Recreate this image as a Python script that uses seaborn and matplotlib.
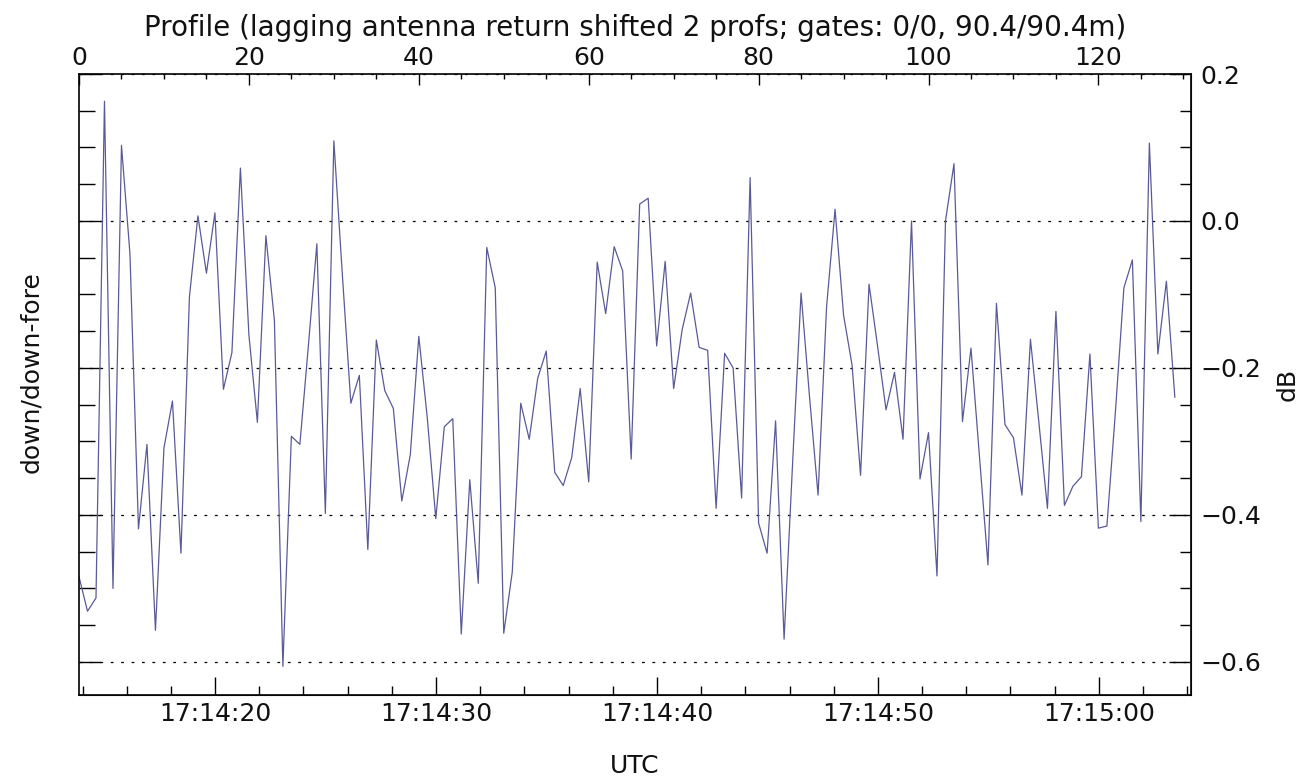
import numpy as np
import pandas as pd
import matplotlib
matplotlib.use("Agg")
import matplotlib.pyplot as plt
import seaborn as sns
from matplotlib.ticker import MultipleLocator, FixedLocator, FuncFormatter

# down/down-fore ratio (dB) for each profile
ratio_db = [
    -0.484, -0.531, -0.513, 0.163, -0.500, 0.103, -0.045, -0.419, -0.304, -0.557,
    -0.309, -0.245, -0.452, -0.103, 0.007, -0.071, 0.011, -0.229, -0.179, 0.072,
    -0.155, -0.274, -0.020, -0.135, -0.606, -0.293, -0.304, -0.170, -0.031, -0.398,
    0.109, -0.073, -0.248, -0.210, -0.447, -0.162, -0.231, -0.255, -0.381, -0.318,
    -0.157, -0.268, -0.405, -0.280, -0.269, -0.562, -0.352, -0.493, -0.036, -0.091,
    -0.561, -0.478, -0.248, -0.297, -0.214, -0.177, -0.342, -0.360, -0.322, -0.228,
    -0.355, -0.056, -0.126, -0.035, -0.068, -0.324, 0.023, 0.031, -0.170, -0.055,
    -0.228, -0.148, -0.098, -0.172, -0.176, -0.391, -0.180, -0.200, -0.377, 0.059,
    -0.411, -0.452, -0.272, -0.569, -0.330, -0.098, -0.240, -0.373, -0.117, 0.016,
    -0.128, -0.196, -0.346, -0.086, -0.170, -0.257, -0.206, -0.297, 0.000, -0.351,
    -0.288, -0.483, 0.000, 0.078, -0.273, -0.173, -0.320, -0.468, -0.112, -0.277,
    -0.295, -0.373, -0.161, -0.275, -0.391, -0.123, -0.387, -0.361, -0.348, -0.181,
    -0.418, -0.415, -0.260, -0.091, -0.053, -0.409, 0.106, -0.181, -0.082, -0.240,
]
profile = np.arange(len(ratio_db))

# timing of the profiles (seconds after 17:14:00)
t_first = 13.84
t_step = 0.3845

# UTC ticks, seconds after 17:14:00
utc_major = [20, 30, 40, 50, 60]
utc_minor = list(range(14, 65, 2))

# dB ticks
db_major = [0.2, 0.0, -0.2, -0.4, -0.6]
db_minor = [0.15, 0.1, 0.05, -0.05, -0.1, -0.15, -0.25, -0.3, -0.35,
            -0.45, -0.5, -0.55, -0.6]

grid_levels = [0.2, 0.0, -0.2, -0.4, -0.6]

title = "Profile (lagging antenna return shifted 2 profs; gates: 0/0, 90.4/90.4m)"

sns.set_style("white")
plt.rcParams['font.family'] = ['DejaVu Sans']
plt.rcParams['font.size'] = 18
plt.rcParams['text.color'] = '#111111'
plt.rcParams['axes.labelcolor'] = '#111111'
plt.rcParams['xtick.color'] = '#111111'
plt.rcParams['ytick.color'] = '#111111'
plt.rcParams['lines.scale_dashes'] = False


def prof_to_sec(p):
    return t_first + np.asarray(p) * t_step


def sec_to_prof(s):
    return (np.asarray(s) - t_first) / t_step


def utc_label(s, pos):
    total = 17 * 3600 + 14 * 60 + int(round(s))
    h, rem = divmod(total, 3600)
    m, sec = divmod(rem, 60)
    return f"{h:02d}:{m:02d}:{sec:02d}"


df = pd.DataFrame({'profile': profile, 'ratio': ratio_db})

fig = plt.figure(figsize=(13.15, 7.8), dpi=100)
ax = fig.add_axes([79 / 1315, 1 - 695 / 780, (1191 - 79) / 1315, (695 - 74) / 780])

sns.lineplot(data=df, x='profile', y='ratio', ax=ax, color='#5a5a99', lw=0.9)
for g in grid_levels:
    ax.axhline(g, color='black', lw=0.9, ls=(0, (2, 5.5)), zorder=1)

ax.set_xlim(0, 130.9)
ax.set_ylim(-0.645, 0.2)

for sp in ax.spines.values():
    sp.set_color('black')
    sp.set_linewidth(1.2)

# profile axis on top
ax.xaxis.set_major_locator(MultipleLocator(20))
ax.xaxis.set_minor_locator(MultipleLocator(5))
ax.tick_params(axis='x', which='both', bottom=False, labelbottom=False,
               top=True, labeltop=True, direction='in', pad=3, color='black')
ax.tick_params(axis='x', which='major', length=8, width=1)
ax.tick_params(axis='x', which='minor', length=3.6, width=1)
ax.xaxis.set_label_position('top')
ax.set_xlabel(title, labelpad=7, fontsize=20)

# left axis: ticks only
ax.yaxis.set_major_locator(FixedLocator(db_major))
ax.yaxis.set_minor_locator(FixedLocator(db_minor))
ax.tick_params(axis='y', which='both', left=True, right=False, labelleft=False,
               direction='in', color='black')
ax.tick_params(axis='y', which='major', length=16, width=1)
ax.tick_params(axis='y', which='minor', length=11.5, width=1)
ax.set_ylabel('down/down-fore', labelpad=26)
ax.yaxis.label.set_y(0.52)

# UTC axis at the bottom
bot = ax.secondary_xaxis('bottom', functions=(prof_to_sec, sec_to_prof))
bot.xaxis.set_major_locator(FixedLocator(utc_major))
bot.xaxis.set_minor_locator(FixedLocator(utc_minor))
bot.xaxis.set_major_formatter(FuncFormatter(utc_label))
bot.tick_params(which='both', direction='in', pad=5, color='black')
bot.tick_params(which='major', length=13, width=1)
bot.tick_params(which='minor', length=6.5, width=1)
bot.set_xlabel('UTC', labelpad=20)

# dB axis on the right
rgt = ax.secondary_yaxis('right')
rgt.yaxis.set_major_locator(FixedLocator(db_major))
rgt.yaxis.set_minor_locator(FixedLocator(db_minor))
rgt.yaxis.set_major_formatter(FuncFormatter(lambda v, pos: f"{v:.1f}".replace('-', '\u2212')))
rgt.tick_params(which='both', direction='in', pad=7, color='black')
rgt.tick_params(which='major', length=16, width=1)
rgt.tick_params(which='minor', length=8, width=1)
rgt.set_ylabel('dB', labelpad=10)

fig.savefig('out.png', dpi=100)
